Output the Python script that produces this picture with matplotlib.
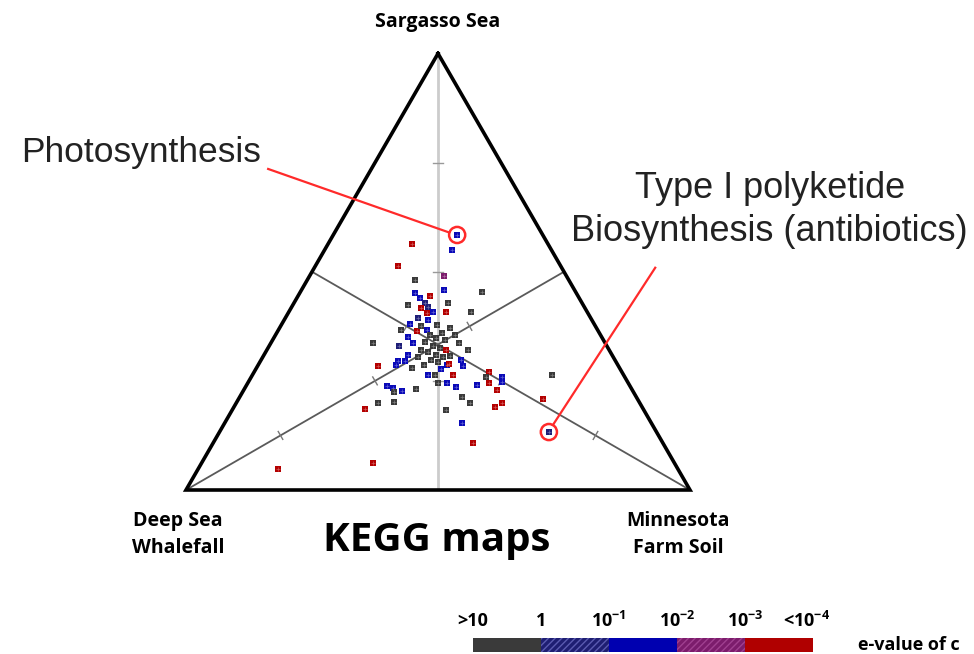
import numpy as np
import matplotlib
matplotlib.use("Agg")
import matplotlib.pyplot as plt
from matplotlib.patches import Circle, Rectangle

# ---------------- data (triangle-plane coordinates, side = 100) ----------------
# u: horizontal position (0 = Deep Sea Whalefall corner, 100 = Minnesota Farm Soil corner)
# v: vertical position (86.6 = Sargasso Sea corner)
pt_u = [53.8, 44.8, 52.8, 42.1, 51.2, 45.4, 51.2, 58.7, 45.4, 48.4,
        46.4, 47.4, 48.0, 49.0, 44.0, 46.6, 51.6, 56.5, 52.0, 47.8,
        46.0, 48.0, 52.4, 44.4, 45.8, 47.8, 42.7, 44.0, 37.1, 42.3,
        45.0, 54.2, 56.0, 51.6, 42.1, 43.5, 41.7, 38.1, 51.8, 54.6,
        55.0, 52.2, 53.0, 48.0, 49.4, 50.0, 51.8, 53.6, 54.8, 56.3,
        57.7, 60.1, 60.1, 59.5, 62.7, 62.7, 61.7, 62.7, 61.3, 72.6,
        70.8, 72.0, 54.8, 56.9, 51.6, 45.6, 39.9, 41.1, 42.9, 41.3,
        38.1, 41.3, 35.5, 37.1, 18.3, 48.4, 49.6, 50.8, 47.4, 49.0,
        50.4, 48.0, 49.6, 51.0, 46.6, 48.6, 50.0, 46.0, 51.4, 47.2,
        50.6, 44.8, 52.4, 53.4, 46.6, 49.8, 44.0]
pt_v = [50.6, 48.8, 47.6, 44.4, 42.5, 41.7, 39.7, 39.3, 39.1, 38.5,
        38.1, 37.1, 36.3, 35.3, 36.7, 36.1, 35.3, 35.3, 37.1, 35.1,
        34.1, 33.7, 32.1, 32.9, 31.6, 31.8, 31.8, 30.4, 29.2, 28.6,
        29.2, 29.2, 27.8, 27.8, 25.6, 25.6, 24.8, 24.6, 24.8, 25.8,
        24.6, 25.0, 22.8, 22.8, 22.8, 21.2, 21.2, 20.4, 18.5, 17.3,
        20.8, 21.2, 23.4, 22.4, 22.4, 21.4, 19.8, 17.3, 16.5, 22.8,
        18.1, 11.5, 13.3, 9.3, 15.9, 20.0, 20.6, 20.2, 19.6, 19.4,
        17.3, 17.5, 16.1, 5.4, 4.2, 30.8, 30.2, 31.2, 29.4, 28.6,
        28.2, 27.4, 26.8, 26.4, 27.8, 25.8, 25.4, 26.4, 29.8, 24.8,
        24.0, 24.2, 26.6, 30.8, 32.5, 32.7, 26.8]
# e-value class of each point: k >10, n 1, b 10^-1, p 10^-2, r 10^-3 / <10^-4
pt_cls = list("brbrpkbkbr"
              "bnnbkrrkkr"
              "nbkbrbkbkn"
              "bkkrbbbrbb"
              "brrbkkbbkk"
              "brrkbbrrrk"
              "rnbrkkbbbk"
              "kkrrrkkkkk"
              "kkkkkkkkkk"
              "bkkkkkb")

highlight_idx = [0, 61]   # Photosynthesis, Type I polyketide biosynthesis

corner_labels = ["Sargasso Sea", "Deep Sea\nWhalefall", "Minnesota\nFarm Soil"]
legend_labels = [">10", "1", "10$^{\\mathregular{-1}}$", "10$^{\\mathregular{-2}}$",
                 "10$^{\\mathregular{-3}}$", "<10$^{\\mathregular{-4}}$"]
legend_colors = ["#3a3a3a", "#1e1e72", "#0000b0", "#7c1c6c", "#b00000"]

cls_colors = {"k": "#3a3a3a", "n": "#1e1e78", "b": "#0a0ab8", "p": "#7c1c6c", "r": "#b40000"}

# ---------------- figure ----------------
W, H = 974, 654
fig = plt.figure(figsize=(W / 100, H / 100), dpi=100)
ax = fig.add_axes([0, 0, 1, 1])
s = 5.04  # pixels per unit
ax.set_xlim(-186 / s, (W - 186) / s)
ax.set_ylim((490 - H) / s, 490 / s)
ax.axis("off")

h = 100 * np.sqrt(3) / 2
A = np.array([50.0, h])    # Sargasso
B = np.array([0.0, 0.0])   # Whalefall
C = np.array([100.0, 0.0]) # Soil

# medians with tick marks
for V, P, Q, col, lw in [(A, B, C, "#cccccc", 2.0), (B, A, C, "#5a5a5a", 1.3), (C, A, B, "#5a5a5a", 1.3)]:
    M = (P + Q) / 2
    ax.plot([V[0], M[0]], [V[1], M[1]], color=col, lw=lw, zorder=1, solid_capstyle="butt")
    d = (M - V) / np.linalg.norm(M - V)
    nrm = np.array([-d[1], d[0]])
    for f in [0.25, 0.5, 0.75]:
        c = V + (M - V) * f
        ax.plot([c[0] - nrm[0] * 0.9, c[0] + nrm[0] * 0.9], [c[1] - nrm[1] * 0.9, c[1] + nrm[1] * 0.9],
                color="#777777" if col != "#cccccc" else "#999999", lw=1.0, zorder=1)

# triangle outline
tri = np.array([A, B, C, A])
ax.plot(tri[:, 0], tri[:, 1], color="black", lw=2.6, zorder=3, solid_joinstyle="miter")

# points
cols = [cls_colors[c] for c in pt_cls]
ax.scatter(pt_u, pt_v, s=20, c=cols, marker="s", linewidths=0, zorder=4)
ax.scatter(pt_u, pt_v, s=8, c="white", marker="+", linewidths=0.5, alpha=0.35, zorder=5)

# highlights and callouts
for i in highlight_idx:
    ax.add_patch(Circle((pt_u[i], pt_v[i]), 1.6, fill=False, ec="#ff2a2a", lw=1.8, zorder=6))
ax.plot([16.3, pt_u[0] - 1.6], [63.7, pt_v[0] + 0.5], color="#ff2a2a", lw=1.6, zorder=6)
ax.plot([93.1, pt_u[61] + 0.8], [44.1, pt_v[61] + 1.4], color="#ff2a2a", lw=1.6, zorder=6)

# text
bold = dict(family="Open Sans", fontweight="bold", color="black")
ax.text(50.0, 92.9, corner_labels[0], ha="center", va="center", fontsize=14, **bold)
ax.text(-1.6, -8.8, corner_labels[1], ha="center", va="center", fontsize=14,
        linespacing=1.45, **bold)
ax.text(97.6, -8.9, corner_labels[2], ha="center", va="center", fontsize=14,
        linespacing=1.45, **bold)
ax.text(49.8, -10.0, "KEGG maps", ha="center", va="center", fontsize=29, **bold)

reg = dict(family="Liberation Sans", color="#222222")
ax.text(-32.8, 67.0, "Photosynthesis", ha="left", va="center", fontsize=25.5, **reg)
ax.text(115.8, 59.9, "Type I polyketide", ha="center", va="center", fontsize=26, **reg)
ax.text(115.8, 51.3, "Biosynthesis (antibiotics)", ha="center", va="center", fontsize=26, **reg)

# e-value colour bar legend
lax = fig.add_axes([473 / W, 1 - 652 / H, 340 / W, 14 / H])
lax.set_xlim(0, 5)
lax.set_ylim(0, 1)
lax.axis("off")
hatches = [None, "/////", None, "/////", None]
for i, (c, hh) in enumerate(zip(legend_colors, hatches)):
    lax.add_patch(Rectangle((i, 0), 1, 1, fc=c, ec="#5a5ab0" if i == 1 else ("#a04090" if i == 3 else c),
                            lw=0, hatch=hh))
for i, lab in enumerate(legend_labels):
    fig.text((473 + i * 68 - (6 if i == 5 else 0)) / W, 1 - 621 / H, lab, ha="center", va="center",
             fontsize=13, **bold)
fig.text(858 / W, 1 - 645 / H, "e-value of c", ha="left", va="center", fontsize=13, **bold)

fig.savefig("out.png", dpi=100)
